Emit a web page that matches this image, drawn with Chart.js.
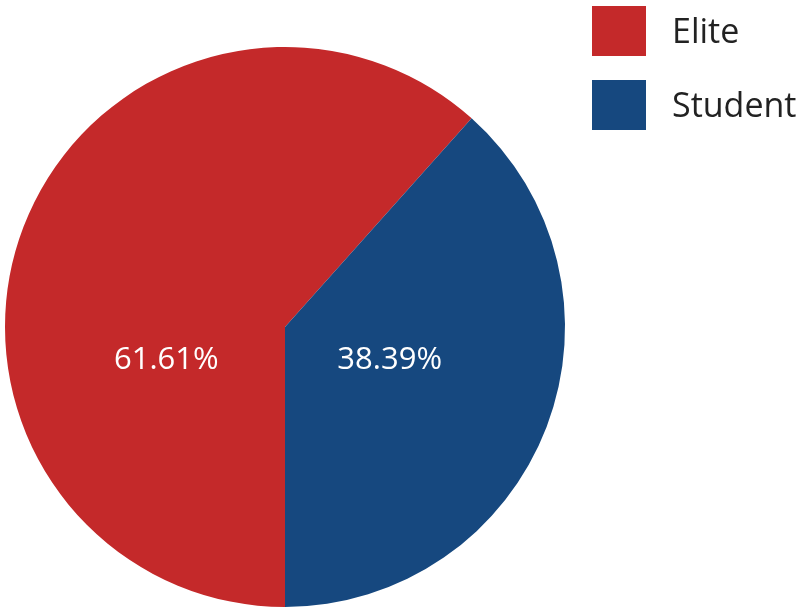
<!DOCTYPE html>
<html><head><meta charset="utf-8">
<script src="https://cdn.jsdelivr.net/npm/chart.js@4/dist/chart.umd.min.js"></script>
<style>html,body{margin:0;padding:0;background:#fff}#wrap{width:806px;height:608px}</style>
</head><body><div id="wrap"><canvas id="c"></canvas></div>
<script>
const categories = ["Elite", "Student"];
const shares = [61.61, 38.39];
const colors = ["#C4292A", "#16487F"];

const labelPlugin = {
  id: 'sliceLabels',
  afterDatasetsDraw(chart) {
    const ctx = chart.ctx;
    const meta = chart.getDatasetMeta(0);
    ctx.save();
    ctx.fillStyle = '#ffffff';
    ctx.font = '31px "Open Sans", sans-serif';
    ctx.textAlign = 'center';
    ctx.textBaseline = 'middle';
    meta.data.forEach((arc, i) => {
      const p = arc.getProps(['x','y','startAngle','endAngle','outerRadius'], true);
      const mid = (p.startAngle + p.endAngle) / 2;
      const r = p.outerRadius;
      const x = p.x + Math.cos(mid) * 0.427 * r - 7;
      const y = p.y + 0.12 * r;
      ctx.fillText(shares[i].toFixed(2) + '%', x, y);
    });
    ctx.restore();
  }
};

const legendPlugin = {
  id: 'customLegend',
  afterDraw(chart) {
    const ctx = chart.ctx;
    ctx.save();
    ctx.font = '34px "Open Sans", sans-serif';
    ctx.textBaseline = 'middle';
    ctx.textAlign = 'left';
    categories.forEach((name, i) => {
      const top = 6 + i * 74;
      ctx.fillStyle = colors[i];
      ctx.fillRect(592, top, 54, 50);
      ctx.fillStyle = '#222222';
      ctx.fillText(name, 672, top + 27);
    });
    ctx.restore();
  }
};

new Chart(document.getElementById('c'), {
  type: 'pie',
  data: {
    labels: categories,
    datasets: [{ data: shares, backgroundColor: colors, borderWidth: 0 }]
  },
  options: {
    responsive: true,
    maintainAspectRatio: false,
    animation: false,
    rotation: 180,
    layout: { padding: { top: 47, bottom: 1, left: 5, right: 241 } },
    plugins: { legend: { display: false }, tooltip: { enabled: false } }
  },
  plugins: [labelPlugin, legendPlugin]
});
</script></body></html>
